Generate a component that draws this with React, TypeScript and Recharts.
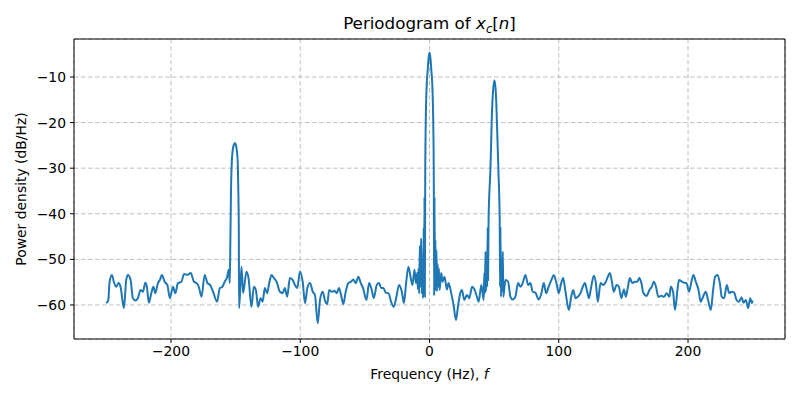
import React from 'react';
import { LineChart, Line, XAxis, YAxis, CartesianGrid, ReferenceArea } from 'recharts';

// frequency axis (Hz) and power spectral density (dB/Hz)
const freqHz = [
  -250, -248.5, -247.5, -245.7, -244.2, -242.3, -240.5, -239, -236.4, -234.6, -233.3, -231.2, -229.5, -227.6,
  -225.6, -223.5, -221.7, -219.8, -218.6, -217.1, -215.2, -213.6, -212.1, -210.1, -208.5, -207, -204.9, -202.8,
  -200.8, -198.4, -196.6, -194.6, -191.9, -189.9, -187.3, -184.7, -182.2, -180.1, -178.5, -176.4, -173.9, -171.8,
  -169.8, -167.4, -164.3, -162.2, -160.2, -158.4, -156.6, -155.3, -154.5, -154, -153.6, -153, -152.2, -151.4,
  -150.6, -149.9, -149.1, -148.3, -147.8, -147.5, -147.3, -145.4, -144.2, -141.6, -140, -137.7, -135.9, -134.3,
  -132.6, -130.7, -129.1, -127.4, -125.6, -124, -122.2, -120.4, -118.3, -115.7, -113.6, -111.9, -110.1, -108,
  -105.9, -104.1, -102.3, -100.2, -98.1, -96.3, -94.5, -92.4, -90.3, -88.6, -86.5, -84.7, -82.6, -80.9,
  -79.1, -77.6, -75.5, -73.5, -71.8, -70, -68.4, -66.7, -64.8, -62.8, -60.7, -58.9, -57.1, -55,
  -53.2, -51.4, -48.8, -46.7, -44.7, -43.1, -40.8, -39, -37.4, -35.7, -33.8, -31.8, -29.7, -27.6,
  -25.6, -23.5, -21.4, -19.8, -18.1, -16.3, -14.7, -13.2, -11.6, -10.5, -9.5, -9, -8.5, -8,
  -7.5, -7, -6.5, -6, -5.5, -5, -4.5, -4.2, -3.9, -3.6, -3.3, -2.9, -2.2, -1.4,
  -0.7, 0, 0.7, 1.4, 2.2, 2.9, 3.3, 3.6, 3.9, 4.2, 4.6, 5, 5.4, 5.8,
  6.3, 6.8, 7.3, 7.8, 9.1, 10.1, 11.6, 13.5, 14.7, 16.8, 18.6, 20.5, 22, 23.8,
  25.1, 26.9, 29, 30.8, 32.9, 34.9, 36.7, 38, 40.1, 41.9, 42.4, 42.8, 43.3, 43.7,
  44.2, 44.6, 45, 45.3, 45.7, 47.1, 48.6, 49.2, 50.2, 51.2, 51.7, 53.3, 54.3, 54.6,
  54.9, 55.3, 55.8, 56.3, 56.7, 57.1, 58.7, 60.8, 62.6, 64.3, 66.4, 68.5, 70.3, 72.1,
  74.2, 76.3, 78.1, 79.8, 81.9, 84.5, 86.6, 88.4, 90.2, 92.2, 94.9, 96.1, 98.2, 100,
  101.9, 103.4, 105.2, 107.8, 109.6, 111.2, 112.9, 114.7, 116.8, 118.6, 120.2, 122, 123.3, 125.1,
  127.1, 128.7, 130.2, 132.3, 134.4, 136.4, 138, 139.5, 141.1, 142.6, 144.7, 146.5, 148.4, 150.4,
  151.9, 153.5, 155, 156.9, 158.7, 160.8, 162.3, 163.9, 165.4, 168, 170.1, 171.9, 173.6, 175.2,
  177, 179.4, 181.4, 183.5, 185.6, 186.6, 188.4, 189.9, 191.8, 193, 195.7, 198.8, 200.8, 202.6,
  204.2, 206, 208.1, 209.8, 211.6, 213.7, 215.5, 217.6, 219.4, 220.9, 222.8, 224.6, 226.1, 227.9,
  230, 231.8, 233.6, 235.7, 237.5, 239.5, 241.4, 242.9, 244.7, 246.5, 248.1, 249.4, 250,
];

const powerDb = [
  -59.6, -59, -55, -53.4, -54.9, -56, -55.2, -56, -60.7, -54.5, -53.4, -54.5, -58.5, -59,
  -58.5, -56.7, -57.1, -55.1, -56, -59.5, -57.4, -56, -57.4, -55.2, -54.5, -53.4, -54.9, -55.6,
  -58.5, -56, -57.4, -55.2, -54.9, -53.2, -53.4, -53, -54.9, -55.2, -56, -58.2, -53.4, -55.2,
  -55.6, -57.1, -59.3, -56.3, -56, -54.9, -53.9, -52.3, -55.2, -45, -36, -29, -26, -24.9,
  -24.5, -24.8, -26, -29, -36.3, -44, -60.7, -51.6, -57.4, -52.7, -54.1, -60.4, -56, -56.7,
  -60.4, -58.5, -59.3, -56.3, -57.4, -55.2, -53.4, -54.1, -54.9, -57.1, -57.4, -56.3, -58.2, -54.1,
  -54.5, -55.6, -56.3, -52.7, -54.9, -59.6, -56.3, -55.2, -57.1, -57.8, -64, -58.9, -57.1, -59,
  -59.8, -56.7, -57.1, -56.9, -57.4, -56.3, -57.8, -59.8, -57.1, -55.2, -54.9, -54.4, -55.2, -53.8,
  -55.2, -56.3, -58.9, -55.2, -56.7, -58.5, -55.6, -55.2, -56.3, -56.3, -57.3, -57.4, -59.3, -60.4,
  -58.2, -55.6, -57.1, -59.6, -55.2, -51.6, -53.8, -55.6, -52.3, -55.2, -53, -56.5, -52, -57.5,
  -47, -56, -45.4, -57.5, -50, -58.5, -43, -58, -36.3, -58.2, -31, -20, -12, -8.5,
  -5.8, -4.7, -5.8, -8.5, -12, -20, -31, -58, -36.3, -57, -45.7, -56.5, -48, -57,
  -51, -56, -52, -56.7, -53, -54.9, -53.8, -56.6, -55.2, -57.4, -60, -63.3, -60.4, -57.4,
  -56.7, -58.9, -57.8, -58.5, -56, -56.7, -58.2, -59.3, -55.6, -58.9, -53, -57.5, -48.3, -57,
  -50, -56, -43, -54.5, -41.4, -30.4, -15.8, -12.9, -10.7, -12.9, -15.8, -30.4, -41.4, -56,
  -42.8, -58.2, -50, -57, -48.3, -58.2, -54.5, -54.9, -58.2, -58.8, -58.2, -55.2, -56, -55.2,
  -53.4, -55.6, -55.2, -57.1, -57.3, -58.8, -57.4, -55.2, -57.4, -56, -54.1, -53.4, -55.2, -57.4,
  -55.2, -54.1, -57.1, -61.1, -58.2, -56.7, -58.5, -58.2, -57.4, -56, -55.2, -57.1, -58.5, -56,
  -53.6, -55.2, -59.3, -55.2, -55.6, -54.9, -53.8, -53, -54.9, -57.1, -55.6, -56, -58.5, -56.6,
  -58.2, -56, -54.1, -55.2, -54.9, -54.9, -54.1, -55.2, -57.3, -58, -56.7, -56, -54.9, -56,
  -58.2, -58, -58.2, -57.4, -58.2, -56, -57.1, -61.1, -56.7, -54.5, -55, -55.2, -57.1, -54.9,
  -53.4, -54.9, -56.7, -59.3, -58.2, -57.1, -58.9, -61.1, -56.7, -53.8, -53.4, -55.2, -58.2, -58.5,
  -55.6, -57.4, -57.1, -57.3, -58.9, -59.3, -58.3, -59.5, -58.9, -60.7, -58.5, -59.6, -59,
];

const xTicks = [-200, -100, 0, 100, 200];
const yTicks = [-60, -50, -40, -30, -20, -10];

const data = freqHz.map((f, i) => ({ f, p: powerDb[i] }));

const font = '"DejaVu Sans", sans-serif';
const minus = (v: number) => String(v).replace('-', '\u2212');

export default function App() {
  return (
    <div style={{ position: 'relative', width: 800, height: 400, background: '#fff', fontFamily: font }}>
      <style>{'body { margin: 0; }'}</style>
      <div style={{ position: 'absolute', left: 74, width: 711, top: 13, textAlign: 'center', fontSize: 16.7, color: '#000' }}>
        Periodogram of <i>x</i><sub style={{ fontSize: 11.5 }}><i>c</i></sub>[<i>n</i>]
      </div>
      <LineChart
        width={800}
        height={400}
        data={data}
        margin={{ top: 39, right: 15, bottom: 31, left: 0 }}
      >
        <CartesianGrid stroke="#b0b0b0" strokeDasharray="4.5 2.5" strokeWidth={0.8} />
        <XAxis
          type="number"
          dataKey="f"
          domain={[-275, 275]}
          ticks={xTicks}
          allowDataOverflow
          height={30}
          tickSize={4}
          tickMargin={3}
          tickFormatter={minus}
          axisLine={false}
          tickLine={{ stroke: '#000' }}
          tick={{ fill: '#000', fontSize: 13.9, fontFamily: font }}
        />
        <YAxis
          type="number"
          domain={[-67.46, -1.67]}
          ticks={yTicks}
          allowDataOverflow
          width={74}
          tickSize={4}
          tickMargin={4}
          tickFormatter={minus}
          axisLine={false}
          tickLine={{ stroke: '#000' }}
          tick={{ fill: '#000', fontSize: 13.9, fontFamily: font }}
        />
        <Line
          type="monotone"
          dataKey="p"
          stroke="#1f77b4"
          strokeWidth={2}
          dot={false}
          isAnimationActive={false}
        />
        <ReferenceArea x1={-275} x2={275} y1={-67.46} y2={-1.67} fill="none" stroke="#000" strokeWidth={1} />
      </LineChart>
      <div style={{ position: 'absolute', left: 74, width: 711, top: 366, textAlign: 'center', fontSize: 13.9, color: '#000' }}>
        Frequency (Hz), <i>f</i>
      </div>
      <div
        style={{
          position: 'absolute', left: 21, top: 189, fontSize: 13.9, color: '#000', whiteSpace: 'nowrap',
          transform: 'translate(-50%, -50%) rotate(-90deg)',
        }}
      >
        Power density (dB/Hz)
      </div>
    </div>
  );
}
